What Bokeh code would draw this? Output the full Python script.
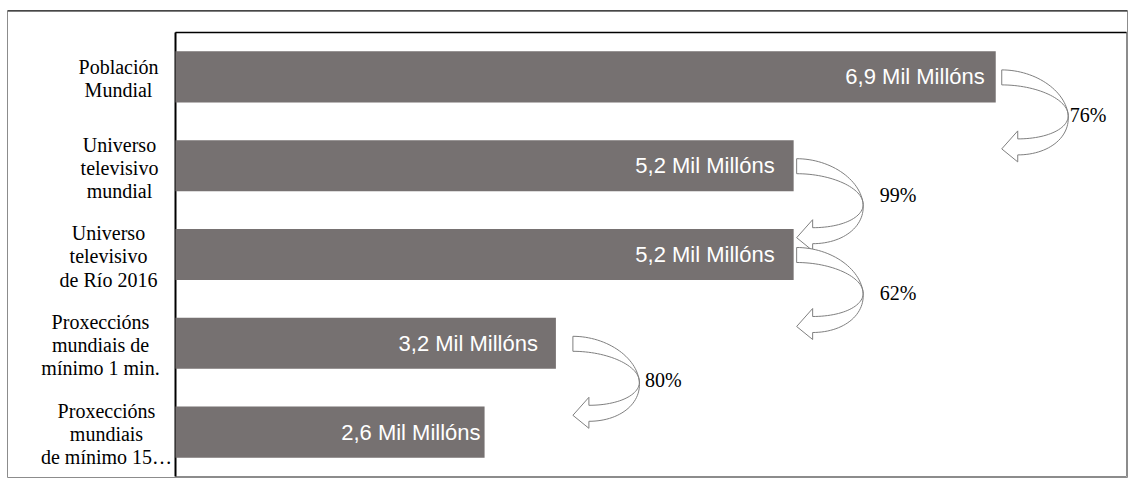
import numpy as np
from bokeh.plotting import figure
from bokeh.models import Range1d, Span
from bokeh.embed import file_html
from bokeh.resources import INLINE
from bokeh.core.properties import value

# ---------------- data ----------------
categories = [
    "Población\nMundial",
    "Universo\ntelevisivo\nmundial",
    "Universo\ntelevisivo\nde Río 2016",
    "Proxeccións\nmundiais de\nmínimo 1 min.",
    "Proxeccións\nmundiais\nde mínimo 15…",
]
values = [6.9, 5.2, 5.2, 3.2, 2.6]
bar_labels = ["6,9 Mil Millóns", "5,2 Mil Millóns", "5,2 Mil Millóns",
              "3,2 Mil Millóns", "2,6 Mil Millóns"]
conversion = ["76%", "99%", "62%", "80%"]
x_max = 8

# ---------------- layout (pixels) ----------------
W, H = 1130, 478
mb_l, mb_r, mb_t, mb_b = 7, 3, 10, 1
frame_w = W - mb_l - mb_r
frame_h = H - mb_t - mb_b
axis_px = 175 - mb_l          # x=0 inside frame
inner_right_px = 1126 - mb_l
inner_top_px = 32 - mb_t
inner_bottom_px = 476 - mb_t
n = len(values)
ppx = (inner_right_px - axis_px) / x_max
ppy = (inner_bottom_px - inner_top_px) / n

x_start = -axis_px / ppx
x_end = x_start + frame_w / ppx
y_top = -0.5 - inner_top_px / ppy
y_bottom = y_top + frame_h / ppy

ys = list(range(n))

p = figure(width=W, height=H, output_backend="svg", toolbar_location=None,
           x_range=Range1d(x_start, x_end), y_range=Range1d(y_bottom, y_top),
           x_axis_location=None, y_axis_location=None,
           min_border_left=mb_l, min_border_right=mb_r,
           min_border_top=mb_t, min_border_bottom=mb_b)
p.grid.visible = False
p.outline_line_color = "#8c8c8c"
p.outline_line_width = 1
p.background_fill_color = "white"
p.border_fill_color = "white"
p.add_layout(Span(location=y_top, dimension="width", line_color="black", line_width=2))

# inner plot box
p.quad(left=[0], right=[x_max], top=[-0.5], bottom=[n - 0.5], fill_color=None,
       line_color="#8c8c8c", line_width=1)
p.segment(x0=[0], x1=[x_max], y0=[-0.5], y1=[-0.5], line_color="black", line_width=1.5)
p.segment(x0=[0], x1=[0], y0=[-0.5], y1=[n - 0.5], line_color="black", line_width=2)

# bars
p.hbar(y=ys, left=0, right=values, height=0.575, fill_color="#767171", line_color=None)

# bar labels (inside end)
label_pad = [11, 19, 19, 18, 4]
for i in range(n):
    p.text(x=[values[i]], y=[ys[i]], text=[bar_labels[i]], x_offset=-label_pad[i],
           text_align="right", text_baseline="middle", text_color="white",
           text_font=value("Liberation Sans"), text_font_size="22px")

# category labels (centred lines, block right-aligned to the axis area)
label_center_px = [118, 119, 108, 100, 106]
p.text(x=[(c - 175) / ppx for c in label_center_px], y=[y + 2 / ppy for y in ys],
       text=categories, text_align="center", text_baseline="middle",
       text_color="black", text_font=value("Liberation Serif"),
       text_font_size="20px", text_line_height=1.05)

# curved arrows
th = np.linspace(0, np.pi, 60)
ox = 16 * (1 - np.cos(th)) / 2 + 58 * np.sin(th)
oy = 85 * (1 - np.cos(th)) / 2
ix = 16 * (1 - np.cos(th)) / 2 + 58 * np.sin(th)
iy = 15 + 54 * (1 - np.cos(th)) / 2
px_shape = np.concatenate([ox, [16, 0, 16], ix[::-1]])
py_shape = np.concatenate([oy, [92, 79, 61], iy[::-1]])

arrow_gap = [6, 3, 3, 17]
pct_dx = [68, 83, 83, 72]
pct_dy = [45, 36, 45, 44]
axs, ays, tx, ty = [], [], [], []
for i in range(len(conversion)):
    x0 = values[i] + arrow_gap[i] / ppx
    y0 = ys[i] - 7 / ppy
    axs.append(list(x0 + px_shape / ppx))
    ays.append(list(y0 + py_shape / ppy))
    tx.append(x0 + pct_dx[i] / ppx)
    ty.append(y0 + pct_dy[i] / ppy)

p.patches(xs=axs, ys=ays, fill_color="white", line_color="#7f7f7f", line_width=1)
p.text(x=tx, y=ty, text=conversion, text_align="left", text_baseline="middle",
       text_color="black", text_font=value("Liberation Serif"), text_font_size="20px")

open("out.html", "w").write(file_html(p, INLINE))
